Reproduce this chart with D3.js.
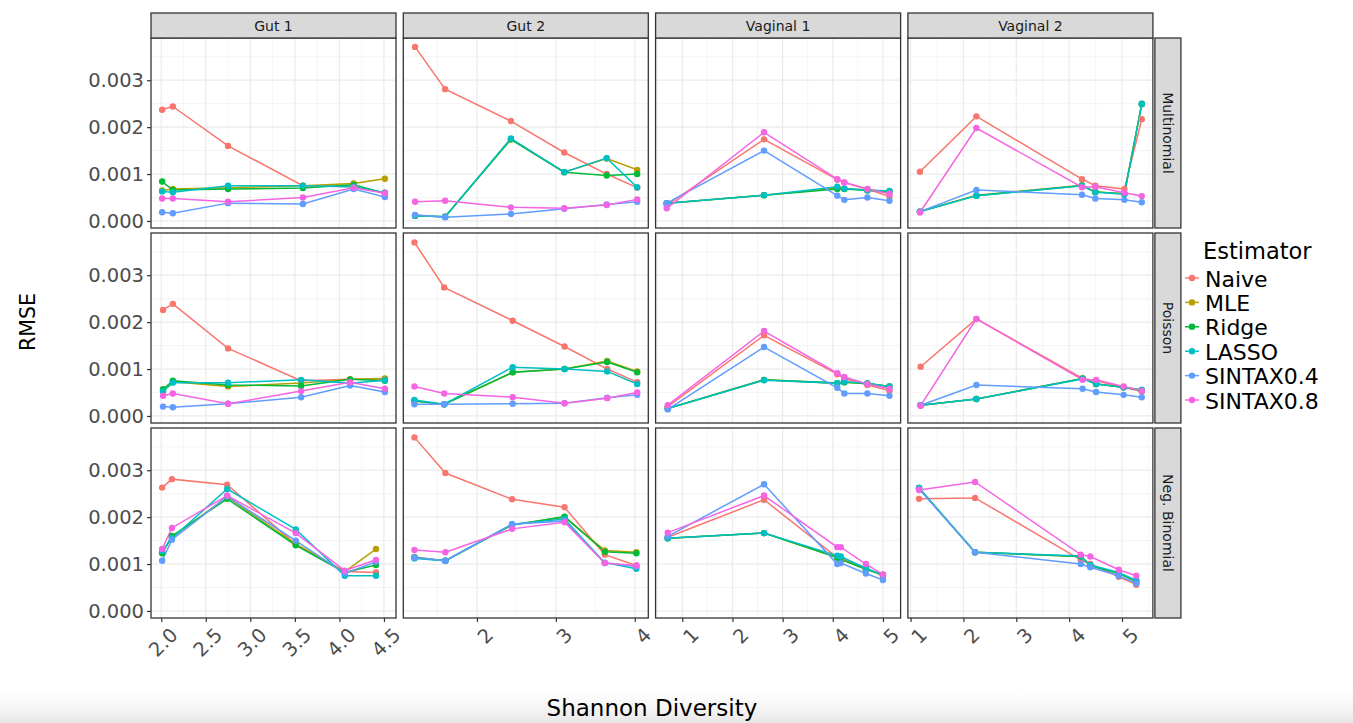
<!DOCTYPE html>
<html>
<head>
<meta charset="utf-8">
<script src="https://cdn.jsdelivr.net/npm/d3@7"></script>
<style>
  html, body { margin: 0; padding: 0; background: #fff; }
  svg { display: block; font-family: "DejaVu Sans", sans-serif; }
</style>
</head>
<body>
<svg id="chart" width="1353" height="723"></svg>
<script>
// ---- Facets and estimators ----
const datasets = ["Gut 1", "Gut 2", "Vaginal 1", "Vaginal 2"];
const models = ["Multinomial", "Poisson", "Neg. Binomial"];
const estimators = ["Naive", "MLE", "Ridge", "LASSO", "SINTAX0.4", "SINTAX0.8"];
const estimatorColors = ["#F8766D", "#B79F00", "#00BA38", "#00BFC4", "#619CFF", "#F564E3"];

// ---- Axis ticks ----
const xTicks = [[2.0, 2.5, 3.0, 3.5, 4.0, 4.5], [2, 3, 4], [1, 2, 3, 4, 5], [1, 2, 3, 4, 5]];
const xTickLabels = [["2.0", "2.5", "3.0", "3.5", "4.0", "4.5"], ["2", "3", "4"], ["1", "2", "3", "4", "5"], ["1", "2", "3", "4", "5"]];
const yTicks = [0, 0.001, 0.002, 0.003];
const yTickLabels = ["0.000", "0.001", "0.002", "0.003"];

// ---- Shannon diversity of each simulated community (one list per dataset) ----
const shannonMultinomial = [
  [2.01, 2.13, 2.75, 3.59, 4.16, 4.51],
  [1.216, 1.597, 2.43, 3.106, 3.644, 4.03],
  [0.69, 2.63, 4.09, 4.23, 4.69, 5.13],
  [1.177, 2.245, 4.243, 4.496, 5.045, 5.374]
];
const shannonPoisson = [
  [2.02, 2.13, 2.75, 3.57, 4.12, 4.51],
  [1.208, 1.585, 2.453, 3.11, 3.65, 4.03],
  [0.71, 2.63, 4.09, 4.23, 4.69, 5.13],
  [1.19, 2.245, 4.255, 4.51, 5.03, 5.374]
];
const shannonNegBinomial = [
  [2.01, 2.12, 2.74, 3.51, 4.06, 4.41],
  [1.208, 1.6, 2.445, 3.11, 3.62, 4.02],
  [0.71, 2.63, 4.09, 4.16, 4.66, 5.0],
  [1.16, 2.22, 4.22, 4.40, 4.94, 5.27]
];

// ---- RMSE per estimator (rows follow `estimators`) ----
// Multinomial
const rmseMultinomialGut1 = [
  [0.00237, 0.00244, 0.00160, 0.00075, 0.00073, 0.00060],
  [0.00065, 0.00068, 0.00071, 0.00075, 0.00080, 0.00090],
  [0.00084, 0.00066, 0.00068, 0.00070, 0.00077, 0.00059],
  [0.00063, 0.00061, 0.00075, 0.00075, 0.00073, 0.00060],
  [0.000185, 0.000164, 0.00038, 0.00036, 0.00068, 0.00051],
  [0.00048, 0.00048, 0.00041, 0.00050, 0.00071, 0.00059]
];
const rmseMultinomialGut2 = [
  [0.00371, 0.00281, 0.00213, 0.00146, 0.00100, 0.00071],
  [0.00011, 0.00009, 0.00174, 0.00104, 0.00133, 0.00109],
  [0.00011, 0.00009, 0.00174, 0.00104, 0.00097, 0.00100],
  [0.00011, 0.00009, 0.00176, 0.00104, 0.00134, 0.00072],
  [0.00013, 0.00008, 0.00015, 0.00026, 0.00035, 0.00041],
  [0.00041, 0.00043, 0.00029, 0.00027, 0.00034, 0.00046]
];
const rmseMultinomialVaginal1 = [
  [0.00034, 0.00174, 0.00088, 0.00082, 0.00068, 0.00052],
  [0.00038, 0.00055, 0.00070, 0.00069, 0.00066, 0.00063],
  [0.00038, 0.00055, 0.00068, 0.00068, 0.00065, 0.00063],
  [0.00038, 0.00055, 0.00073, 0.00069, 0.00066, 0.00064],
  [0.00038, 0.00150, 0.00054, 0.00045, 0.00050, 0.00043],
  [0.00027, 0.00189, 0.00089, 0.00082, 0.00068, 0.00058]
];
const rmseMultinomialVaginal2 = [
  [0.00105, 0.00223, 0.00089, 0.00075, 0.00068, 0.00217],
  [0.00020, 0.00055, 0.00076, 0.00062, 0.00058, 0.00250],
  [0.00020, 0.00054, 0.00075, 0.00062, 0.00058, 0.00249],
  [0.00020, 0.00054, 0.00075, 0.00061, 0.00057, 0.00250],
  [0.00020, 0.00066, 0.00056, 0.00048, 0.00045, 0.00040],
  [0.00018, 0.00198, 0.00072, 0.00073, 0.00060, 0.00053]
];
// Poisson
const rmsePoissonGut1 = [
  [0.00226, 0.00239, 0.00144, 0.00075, 0.00078, 0.00079],
  [0.00054, 0.00073, 0.00063, 0.00070, 0.00078, 0.00080],
  [0.00057, 0.00075, 0.00066, 0.00064, 0.00078, 0.00075],
  [0.00052, 0.00071, 0.00071, 0.00077, 0.00070, 0.00076],
  [0.00020, 0.000185, 0.00026, 0.00040, 0.00065, 0.00051],
  [0.00043, 0.00048, 0.00026, 0.00053, 0.00072, 0.00058]
];
const rmsePoissonGut2 = [
  [0.00370, 0.00274, 0.00203, 0.00148, 0.00100, 0.00072],
  [0.00032, 0.00025, 0.00093, 0.00100, 0.00117, 0.00095],
  [0.00032, 0.00025, 0.00093, 0.00100, 0.00115, 0.00093],
  [0.00034, 0.00025, 0.00104, 0.00100, 0.00095, 0.00068],
  [0.00025, 0.00025, 0.00026, 0.00027, 0.00039, 0.00045],
  [0.00063, 0.00048, 0.00040, 0.00027, 0.00038, 0.00050]
];
const rmsePoissonVaginal1 = [
  [0.00020, 0.00172, 0.00089, 0.00080, 0.00066, 0.00054],
  [0.00016, 0.00077, 0.00070, 0.00072, 0.00069, 0.00063],
  [0.00016, 0.00077, 0.00070, 0.00072, 0.00069, 0.00063],
  [0.00016, 0.00076, 0.00070, 0.00073, 0.00070, 0.00063],
  [0.00014, 0.00147, 0.00060, 0.00048, 0.00048, 0.00043],
  [0.00023, 0.00181, 0.00091, 0.00083, 0.00068, 0.00058]
];
const rmsePoissonVaginal2 = [
  [0.00105, 0.00207, 0.00080, 0.00075, 0.00061, 0.00052],
  [0.00023, 0.00036, 0.00080, 0.00068, 0.00061, 0.00055],
  [0.00023, 0.00036, 0.00080, 0.00068, 0.00061, 0.00055],
  [0.00023, 0.00036, 0.00079, 0.00068, 0.00061, 0.00056],
  [0.00023, 0.00066, 0.00058, 0.00051, 0.00045, 0.00040],
  [0.00022, 0.00207, 0.00077, 0.00077, 0.00063, 0.00054]
];
// Negative binomial
const rmseNegBinomialGut1 = [
  [0.00263, 0.00281, 0.00269, 0.00142, 0.00084, 0.00082],
  [0.00125, 0.00157, 0.00243, 0.00143, 0.00084, 0.00132],
  [0.00123, 0.00160, 0.00239, 0.00140, 0.00082, 0.00098],
  [0.00128, 0.00155, 0.00260, 0.00174, 0.00075, 0.00075],
  [0.00107, 0.00152, 0.00244, 0.00150, 0.00080, 0.00105],
  [0.00132, 0.00177, 0.00246, 0.00166, 0.00086, 0.00109]
];
const rmseNegBinomialGut2 = [
  [0.00370, 0.00294, 0.00238, 0.00221, 0.00120, 0.00097],
  [0.00115, 0.00107, 0.00184, 0.00200, 0.00129, 0.00125],
  [0.00114, 0.00107, 0.00183, 0.00201, 0.00126, 0.00123],
  [0.00112, 0.00107, 0.00185, 0.00196, 0.00103, 0.00090],
  [0.00114, 0.00107, 0.00185, 0.00192, 0.00102, 0.00095],
  [0.00130, 0.00125, 0.00175, 0.00189, 0.00102, 0.00097]
];
const rmseNegBinomialVaginal1 = [
  [0.00157, 0.00237, 0.00114, 0.00112, 0.00091, 0.00075],
  [0.00155, 0.00166, 0.00114, 0.00110, 0.00089, 0.00077],
  [0.00155, 0.00166, 0.00114, 0.00110, 0.00089, 0.00077],
  [0.00155, 0.00166, 0.00118, 0.00116, 0.00091, 0.00077],
  [0.00159, 0.00270, 0.00100, 0.00102, 0.00080, 0.00066],
  [0.00167, 0.00246, 0.00136, 0.00136, 0.00100, 0.00078]
];
const rmseNegBinomialVaginal2 = [
  [0.00239, 0.00241, 0.00109, 0.00100, 0.00073, 0.00056],
  [0.00262, 0.00125, 0.00116, 0.00097, 0.00080, 0.00063],
  [0.00262, 0.00125, 0.00116, 0.00097, 0.00080, 0.00063],
  [0.00262, 0.00125, 0.00117, 0.00098, 0.00082, 0.00065],
  [0.00260, 0.00125, 0.00100, 0.00093, 0.00075, 0.00059],
  [0.00258, 0.00275, 0.00120, 0.00116, 0.00088, 0.00075]
];

// Facet grid tables assembled from the lists above: [model][dataset]
const shannonByModel = [shannonMultinomial, shannonPoisson, shannonNegBinomial];
const rmseByModel = [
  [rmseMultinomialGut1, rmseMultinomialGut2, rmseMultinomialVaginal1, rmseMultinomialVaginal2],
  [rmsePoissonGut1, rmsePoissonGut2, rmsePoissonVaginal1, rmsePoissonVaginal2],
  [rmseNegBinomialGut1, rmseNegBinomialGut2, rmseNegBinomialVaginal1, rmseNegBinomialVaginal2]
];

// ---- Layout ----
const panelLeft = 151, panelTop = 38;
const panelW = 245, panelH = 190;
const gapX = 7.3, gapY = 5;
const stripH = 25, stripW = 26;
const yDomain = [-0.00015, 0.0039];

const svg = d3.select("#chart");

// soft shade along the bottom edge
const defs = svg.append("defs");
const grad = defs.append("linearGradient").attr("id", "bottomShade")
  .attr("x1", 0).attr("y1", 0).attr("x2", 0).attr("y2", 1);
grad.append("stop").attr("offset", "0%").attr("stop-color", "#ffffff").attr("stop-opacity", 0);
grad.append("stop").attr("offset", "100%").attr("stop-color", "#e6e6e6").attr("stop-opacity", 1);
svg.append("rect").attr("x", 0).attr("y", 680).attr("width", 1353).attr("height", 43)
  .attr("fill", "url(#bottomShade)");

const colX = d => panelLeft + d * (panelW + gapX);
const rowY = m => panelTop + m * (panelH + gapY);

// x scales: free per dataset column, data range with 5% padding
const xScales = datasets.map((ds, d) => {
  const all = shannonByModel.flatMap(rows => rows[d]);
  const [lo, hi] = d3.extent(all);
  const pad = (hi - lo) * 0.05;
  return d3.scaleLinear().domain([lo - pad, hi + pad]).range([colX(d), colX(d) + panelW]);
});
const yScales = models.map((m, i) =>
  d3.scaleLinear().domain(yDomain).range([rowY(i) + panelH, rowY(i)]));

function minorTicks(ticks, domain) {
  const step = ticks[1] - ticks[0];
  const out = [];
  for (let k = -1; k < ticks.length; k++) {
    const v = (k < 0 ? ticks[0] - step : ticks[k]) + step / 2;
    if (v > domain[0] && v < domain[1]) out.push(v);
  }
  return out;
}

const yMinor = minorTicks(yTicks, yDomain);

models.forEach((model, m) => {
  datasets.forEach((ds, d) => {
    const x = xScales[d], y = yScales[m];
    const g = svg.append("g");
    const x0 = colX(d), y0 = rowY(m);

    g.append("rect").attr("x", x0).attr("y", y0).attr("width", panelW).attr("height", panelH)
      .attr("fill", "#ffffff");

    // grid
    const xMinor = minorTicks(xTicks[d], x.domain());
    g.selectAll(".vminor").data(xMinor).join("line")
      .attr("x1", v => x(v)).attr("x2", v => x(v)).attr("y1", y0).attr("y2", y0 + panelH)
      .attr("stroke", "#f2f2f2").attr("stroke-width", 0.8);
    g.selectAll(".hminor").data(yMinor).join("line")
      .attr("y1", v => y(v)).attr("y2", v => y(v)).attr("x1", x0).attr("x2", x0 + panelW)
      .attr("stroke", "#f2f2f2").attr("stroke-width", 0.8);
    g.selectAll(".vmajor").data(xTicks[d]).join("line")
      .attr("x1", v => x(v)).attr("x2", v => x(v)).attr("y1", y0).attr("y2", y0 + panelH)
      .attr("stroke", "#ebebeb").attr("stroke-width", 1.2);
    g.selectAll(".hmajor").data(yTicks).join("line")
      .attr("y1", v => y(v)).attr("y2", v => y(v)).attr("x1", x0).attr("x2", x0 + panelW)
      .attr("stroke", "#ebebeb").attr("stroke-width", 1.2);

    // series
    const xs = shannonByModel[m][d];
    const rm = rmseByModel[m][d];
    const line = d3.line().x(p => x(p[0])).y(p => y(p[1]));
    estimators.forEach((est, e) => {
      const pts = xs.map((v, k) => [v, rm[e][k]]);
      g.append("path").attr("d", line(pts)).attr("fill", "none")
        .attr("stroke", estimatorColors[e]).attr("stroke-width", 1.5);
    });
    estimators.forEach((est, e) => {
      const pts = xs.map((v, k) => [v, rm[e][k]]);
      g.selectAll(null).data(pts).join("circle")
        .attr("cx", p => x(p[0])).attr("cy", p => y(p[1])).attr("r", 3.2)
        .attr("fill", estimatorColors[e]);
    });

    // border
    g.append("rect").attr("x", x0).attr("y", y0).attr("width", panelW).attr("height", panelH)
      .attr("fill", "none").attr("stroke", "#333333").attr("stroke-width", 1.3);

    // top strips
    if (m === 0) {
      svg.append("rect").attr("x", x0).attr("y", y0 - stripH).attr("width", panelW).attr("height", stripH)
        .attr("fill", "#d9d9d9").attr("stroke", "#333333").attr("stroke-width", 1.3);
      svg.append("text").attr("x", x0 + panelW / 2).attr("y", y0 - stripH / 2)
        .attr("text-anchor", "middle").attr("dominant-baseline", "central")
        .attr("font-size", 14).attr("fill", "#1a1a1a").text(ds);
    }
    // right strips
    if (d === datasets.length - 1) {
      const sx = x0 + panelW + 2;
      svg.append("rect").attr("x", sx).attr("y", y0).attr("width", stripW).attr("height", panelH)
        .attr("fill", "#d9d9d9").attr("stroke", "#333333").attr("stroke-width", 1.3);
      svg.append("text").attr("transform", `translate(${sx + stripW / 2},${y0 + panelH / 2}) rotate(90)`)
        .attr("text-anchor", "middle").attr("dominant-baseline", "central")
        .attr("font-size", 14).attr("fill", "#1a1a1a").text(model);
    }
    // y axis on first column
    if (d === 0) {
      const ax = svg.append("g").attr("transform", `translate(${x0},0)`)
        .call(d3.axisLeft(y).tickValues(yTicks).tickFormat((v, i) => yTickLabels[i]).tickSize(4).tickPadding(3));
      ax.select(".domain").remove();
      ax.selectAll(".tick line").attr("stroke", "#333333").attr("stroke-width", 1.2);
      ax.selectAll(".tick text").attr("font-size", 19.5).attr("fill", "#4d4d4d")
        .attr("font-family", "DejaVu Sans, sans-serif");
    }
    // x axis on bottom row
    if (m === models.length - 1) {
      const ax = svg.append("g").attr("transform", `translate(0,${y0 + panelH})`)
        .call(d3.axisBottom(x).tickValues(xTicks[d]).tickFormat((v, i) => xTickLabels[d][i]).tickSize(4));
      ax.select(".domain").remove();
      ax.selectAll(".tick line").attr("stroke", "#333333").attr("stroke-width", 1.2);
      ax.selectAll(".tick text")
        .attr("font-size", 19.5).attr("fill", "#4d4d4d").attr("font-family", "DejaVu Sans, sans-serif")
        .attr("text-anchor", "end").attr("dy", null).attr("y", null)
        .attr("dominant-baseline", "hanging")
        .attr("transform", "translate(7,8) rotate(-45)");
    }
  });
});

// axis titles
svg.append("text").attr("x", colX(0) + (colX(3) + panelW - colX(0)) / 2).attr("y", 716)
  .attr("text-anchor", "middle").attr("font-size", 23).attr("fill", "#000").text("Shannon Diversity");
svg.append("text").attr("transform", `translate(35,${rowY(0) + (rowY(2) + panelH - rowY(0)) / 2 - 6}) rotate(-90)`)
  .attr("text-anchor", "middle").attr("font-size", 20.5).attr("fill", "#000").text("RMSE");

// legend
const legend = svg.append("g").attr("transform", "translate(1183,0)");
legend.append("text").attr("x", 20).attr("y", 259).attr("font-size", 22.5).attr("fill", "#000").text("Estimator");
estimators.forEach((est, e) => {
  const cy = 278 + e * 24.4;
  legend.append("line").attr("x1", 2).attr("x2", 16).attr("y1", cy).attr("y2", cy)
    .attr("stroke", estimatorColors[e]).attr("stroke-width", 1.5);
  legend.append("circle").attr("cx", 9).attr("cy", cy).attr("r", 3.2).attr("fill", estimatorColors[e]);
  legend.append("text").attr("x", 22).attr("y", cy + 1).attr("dominant-baseline", "central")
    .attr("font-size", 22).attr("fill", "#000").text(est);
});
</script>
</body>
</html>
